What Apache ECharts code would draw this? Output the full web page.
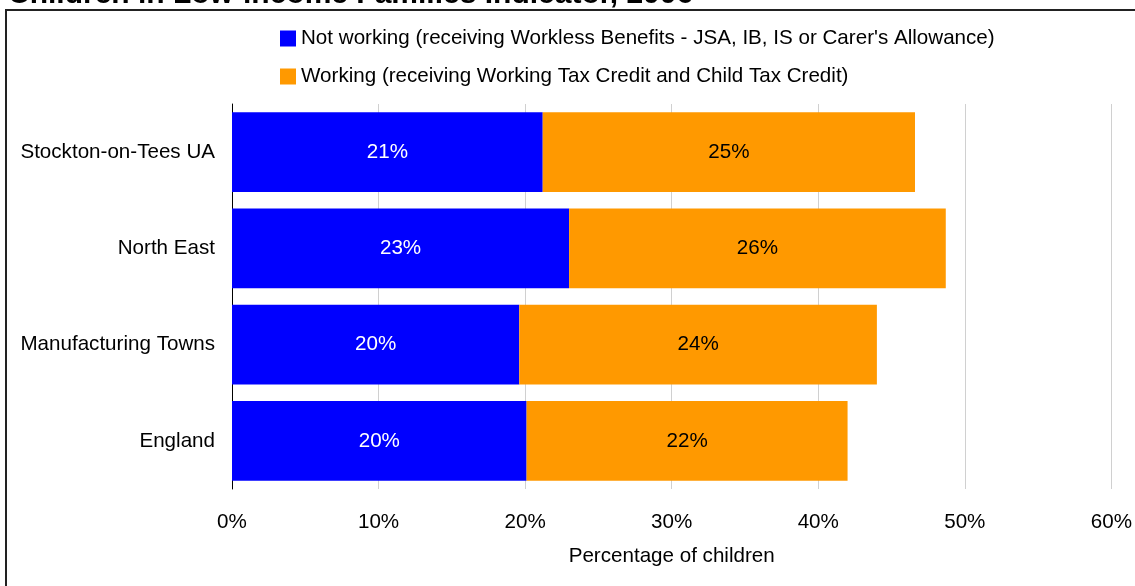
<!DOCTYPE html>
<html>
<head>
<meta charset="utf-8">
<script src="https://cdn.jsdelivr.net/npm/echarts@6/dist/echarts.min.js"></script>
<style>html,body{margin:0;padding:0;background:#fff}#c{width:1135px;height:586px}</style>
</head>
<body>
<div id="c"></div>
<script>
var categories = ['Stockton-on-Tees UA', 'North East', 'Manufacturing Towns', 'England'];
var notWorking = [21.2, 23.0, 19.6, 20.1];
var working = [25.4, 25.7, 24.4, 21.9];
var seriesNames = ["Not working (receiving Workless Benefits - JSA, IB, IS or Carer's Allowance)", 'Working (receiving Working Tax Credit and Child Tax Credit)'];
var titleText = 'Children in Low-income Families Indicator, 2006';
var xAxisName = 'Percentage of children';

var chart = echarts.init(document.getElementById('c'));
var font = 'Liberation Sans, Arial, sans-serif';
var fs = 20.6;
chart.setOption({
  animation: false,
  textStyle: {fontFamily: font},
  title: {text: titleText, left: 3, top: -25, textStyle: {fontFamily: font, fontSize: 30, fontWeight: 'bold', color: '#000'}},
  graphic: [{type: 'rect', shape: {x: 6, y: 10, width: 1200, height: 700}, style: {fill: 'none', stroke: '#222', lineWidth: 2}, z: -1}],
  legend: {orient: 'vertical', left: 275, top: 23, itemWidth: 16, itemHeight: 16, itemGap: 17, itemTextGap: 4, icon: 'rect',
    textStyle: {fontFamily: font, fontSize: fs, color: '#000'}},
  grid: {left: 232, right: 23, top: 104, bottom: 97, containLabel: false},
  xAxis: {type: 'value', min: 0, max: 60, interval: 10,
    axisLabel: {formatter: '{value}%', fontSize: fs, color: '#000', margin: 23, fontFamily: font},
    axisLine: {show: false}, axisTick: {show: false},
    splitLine: {lineStyle: {color: '#d0d0d0', width: 1}},
    name: xAxisName, nameLocation: 'middle', nameGap: 57,
    nameTextStyle: {fontSize: fs, color: '#000', fontFamily: font}},
  yAxis: {type: 'category', data: categories, inverse: true,
    axisLine: {lineStyle: {color: '#000', width: 1}},
    axisTick: {length: 7, lineStyle: {color: '#000'}},
    axisLabel: {fontSize: fs, color: '#000', margin: 17, fontFamily: font}},
  series: [
    {name: seriesNames[0], type: 'bar', stack: 'a', data: notWorking, barCategoryGap: '17%',
      itemStyle: {color: '#0000ff'},
      label: {show: true, position: 'inside', color: '#fff', fontSize: fs, fontFamily: font,
        formatter: function (p) { return Math.round(p.value) + '%'; }}},
    {name: seriesNames[1], type: 'bar', stack: 'a', data: working, barCategoryGap: '17%',
      itemStyle: {color: '#ff9900'},
      label: {show: true, position: 'inside', color: '#000', fontSize: fs, fontFamily: font,
        formatter: function (p) { return Math.round(p.value) + '%'; }}}
  ]
});
</script>
</body>
</html>
